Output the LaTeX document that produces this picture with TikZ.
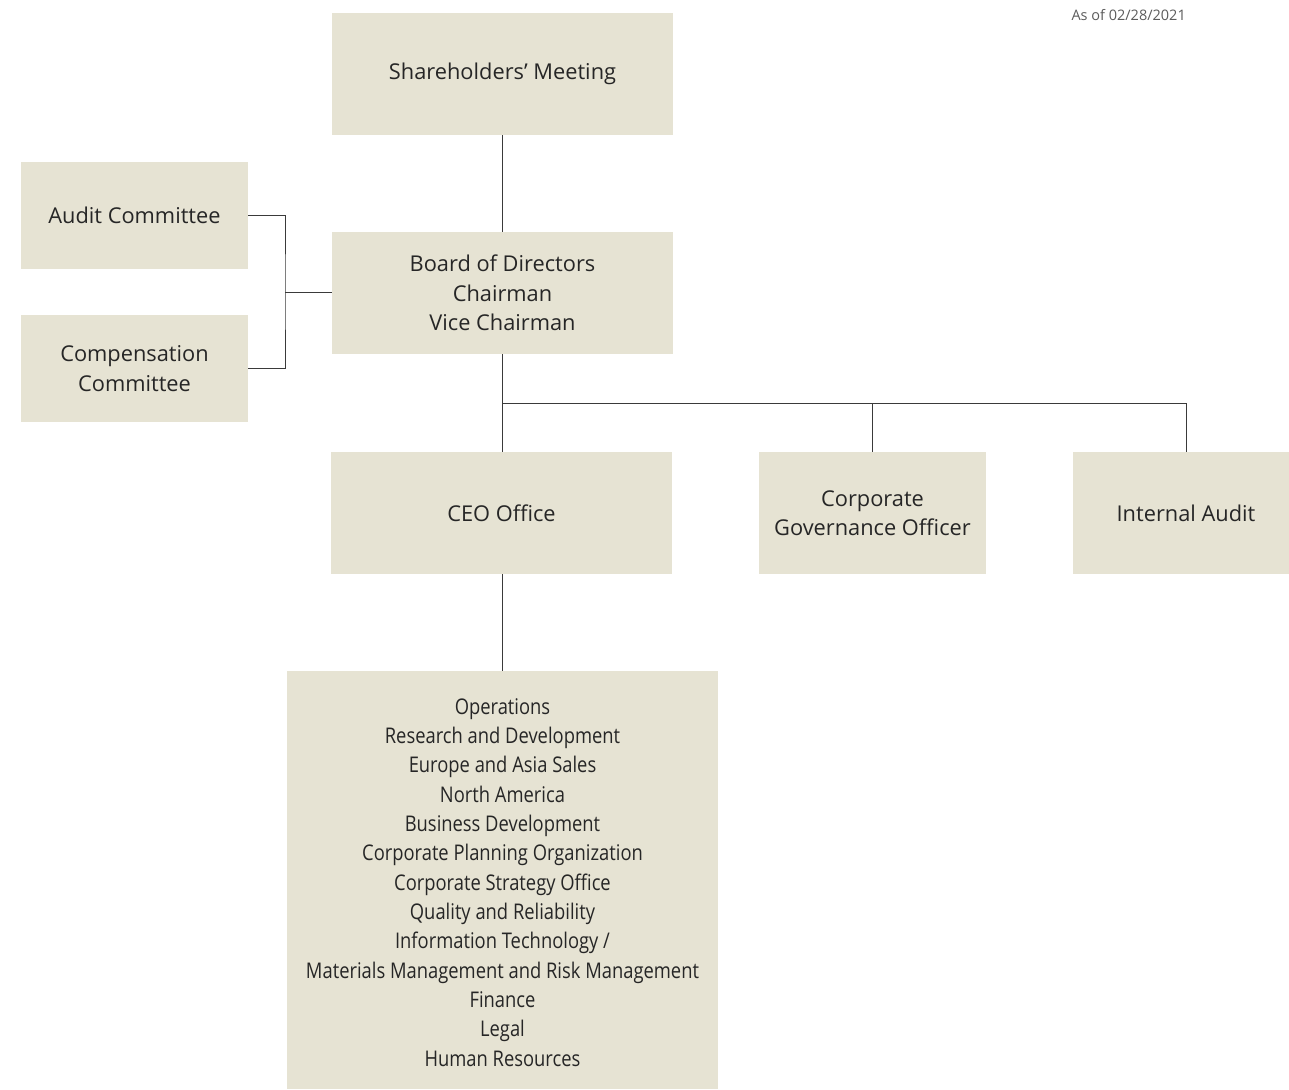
\documentclass[tikz,border=0pt]{standalone}
\usepackage{fontspec}
\setmainfont{Open Sans}
\newfontfamily\condfont[FakeStretch=0.85]{Open Sans}
\definecolor{boxfill}{HTML}{E6E3D3}
\definecolor{txt}{HTML}{262626}
\definecolor{ln}{HTML}{3A3A3A}
\begin{document}
\begin{tikzpicture}[x=1pt,y=-1pt,
  orgbox/.style={fill=boxfill, draw=none, inner sep=0pt, text=txt, align=center,
    font=\fontsize{21.8}{29.5}\selectfont},
  conn/.style={draw=ln, line width=1pt}]
\useasboundingbox (0,0) rectangle (1289,1089);
\fill[white] (0,0) rectangle (1289,1089);
\node[orgbox, minimum width=341pt, minimum height=122pt] (sh) at (502.5,74) {Shareholders’ Meeting};
\node[orgbox, minimum width=341pt, minimum height=122pt] (bd) at (502.5,293) {Board of Directors\\Chairman\\Vice Chairman};
\node[orgbox, minimum width=227pt, minimum height=107pt] (ac) at (134.5,215.5) {Audit Committee};
\node[orgbox, minimum width=227pt, minimum height=107pt] (cc) at (134.5,368.5) {Compensation\\Committee};
\node[orgbox, minimum width=341pt, minimum height=122pt] (ceo) at (501.5,513) {CEO Office};
\node[orgbox, minimum width=227pt, minimum height=122pt] (cgo) at (872.5,513) {Corporate\\Governance Officer};
\node[orgbox, minimum width=216pt, minimum height=122pt] (ia) at (1181,513) {\hspace*{10pt}Internal Audit};
\node[orgbox, minimum width=431pt, minimum height=418pt] (ops) at (502.5,880) {};
\node[text=txt, align=center, font=\condfont\fontsize{21.6}{29.33}\selectfont, inner sep=0pt, anchor=north] (opst) at (502.5,698)
 {Operations\\Research and Development\\Europe and Asia Sales\\North America\\Business Development\\Corporate Planning Organization\\Corporate Strategy Office\\Quality and Reliability\\Information Technology /\\Materials Management and Risk Management\\Finance\\Legal\\Human Resources};
\node[text=txt!75!white, font=\fontsize{14.5}{16}\selectfont, inner sep=0pt, anchor=east] (date) at (1186,15) {As of 02/28/2021};
\coordinate (br) at (285,292);
\coordinate (split) at (502,403);
\draw[conn] (sh.south) -- (sh.south |- bd.north);
\draw[conn] (ac.east) -| (br) |- (cc.east);
\draw[conn] (br) -- (br -| bd.west);
\draw[conn] (bd.south -| split) -- (split |- ceo.north);
\draw[conn] (split) -- (1186,403) -- (1186,452);
\draw[conn] (cgo.north |- split) -- (cgo.north);
\draw[conn] (ceo.south -| split) -- (split |- ops.north);
\end{tikzpicture}
\end{document}
